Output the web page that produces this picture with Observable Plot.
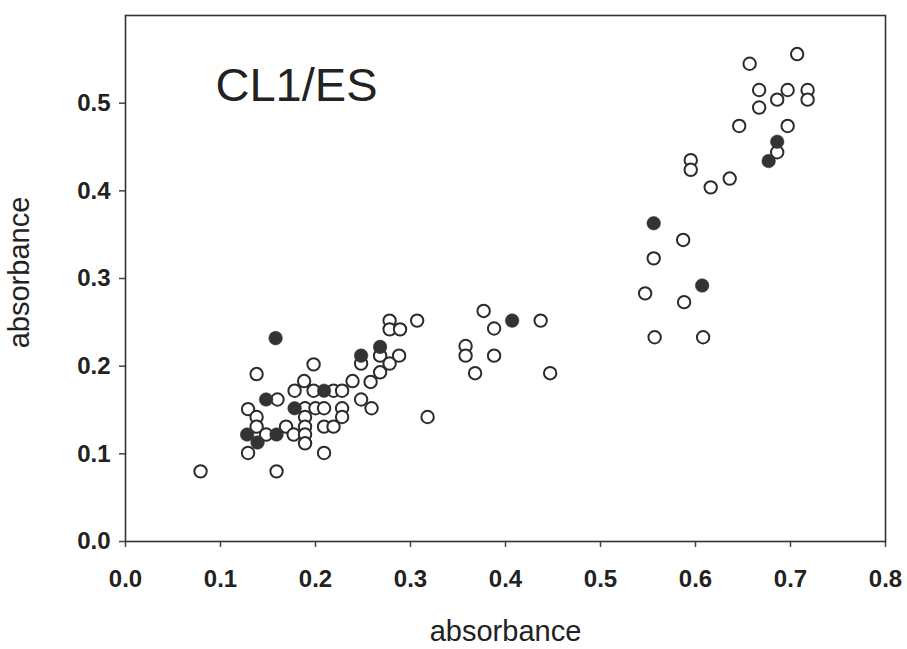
<!DOCTYPE html>
<html><head><meta charset="utf-8">
<script src="https://cdn.jsdelivr.net/npm/d3@7"></script>
<script src="https://cdn.jsdelivr.net/npm/@observablehq/plot@0.6"></script>
<style>
body{margin:0;background:#fff}
#chart svg{display:block}
#chart g[aria-label="x-axis tick label"] text,
#chart g[aria-label="y-axis tick label"] text{font-weight:bold}
</style>
</head><body><div id="chart"></div>
<script>
const xTicks = [0, 0.1, 0.2, 0.3, 0.4, 0.5, 0.6, 0.7, 0.8];
const yTicks = [0, 0.1, 0.2, 0.3, 0.4, 0.5];
const panelLabel = "CL1/ES";
const axisTitle = "absorbance";

// open circles
const openX = [0.079,0.159,0.138,0.160,0.129,0.138,0.138,0.129,0.148,0.169,0.177,
  0.198,0.188,0.178,0.198,0.219,0.228,0.239,0.189,0.200,0.209,0.228,0.189,0.228,
  0.189,0.209,0.219,0.189,0.189,0.209,0.248,0.259,0.258,0.248,0.268,0.268,0.278,
  0.288,0.278,0.278,0.289,0.307,0.318,
  0.377,0.437,0.388,0.358,0.358,0.388,0.368,0.447,
  0.707,0.657,0.667,0.697,0.718,0.686,0.718,0.667,0.646,0.697,0.686,0.595,0.595,
  0.636,0.616,0.587,0.556,0.547,0.588,0.557,0.608];
const openY = [0.080,0.080,0.191,0.162,0.151,0.142,0.131,0.101,0.122,0.131,0.122,
  0.202,0.183,0.172,0.172,0.172,0.172,0.183,0.152,0.152,0.152,0.152,0.142,0.142,
  0.131,0.131,0.131,0.122,0.112,0.101,0.162,0.152,0.182,0.203,0.193,0.212,0.203,
  0.212,0.252,0.242,0.242,0.252,0.142,
  0.263,0.252,0.243,0.223,0.212,0.212,0.192,0.192,
  0.556,0.545,0.515,0.515,0.515,0.504,0.504,0.495,0.474,0.474,0.444,0.435,0.424,
  0.414,0.404,0.344,0.323,0.283,0.273,0.233,0.233];

// filled circles
const filledX = [0.158,0.148,0.128,0.139,0.159,0.178,0.209,0.248,0.268,0.407,0.556,0.607,0.677,0.686];
const filledY = [0.232,0.162,0.122,0.113,0.122,0.152,0.172,0.212,0.222,0.252,0.363,0.292,0.434,0.456];

const openPts = openX.map((x, i) => ({x, y: openY[i]}));
const filledPts = filledX.map((x, i) => ({x, y: filledY[i]}));

const plot = Plot.plot({
  width: 907, height: 649,
  marginLeft: 125, marginRight: 22, marginTop: 15, marginBottom: 108,
  style: {fontFamily: "'Liberation Sans', Arial, sans-serif", color: "#222", background: "#fff", overflow: "visible"},
  x: {domain: [0, 0.8]},
  y: {domain: [0, 0.6]},
  marks: [
    Plot.axisX(xTicks, {tickFormat: d3.format(".1f"), tickSize: 6, tickPadding: 22, fontSize: 24, label: null, stroke: "#444", strokeWidth: 1.5}),
    Plot.axisY(yTicks, {tickFormat: d3.format(".1f"), tickSize: 6, tickPadding: 9, fontSize: 24, label: null, stroke: "#444", strokeWidth: 1.5}),
    Plot.frame({stroke: "#333", strokeWidth: 1.6}),
    Plot.dot(openPts, {x: "x", y: "y", r: 6.2, fill: "#fff", stroke: "#2b2b2b", strokeWidth: 2}),
    Plot.dot(filledPts, {x: "x", y: "y", r: 6.8, fill: "#333", stroke: "#333", strokeWidth: 0.5}),
    Plot.text([panelLabel], {text: d => d, frameAnchor: "top-left", textAnchor: "start", lineAnchor: "middle", dx: 90, dy: 70, fontSize: 47, fill: "#222"}),
    Plot.text([axisTitle], {text: d => d, frameAnchor: "bottom", textAnchor: "middle", lineAnchor: "middle", dy: 90, fontSize: 29, fill: "#222"}),
    Plot.text([axisTitle], {text: d => d, frameAnchor: "left", textAnchor: "middle", lineAnchor: "middle", dx: -106, dy: -6, rotate: -90, fontSize: 29, fill: "#222"})
  ]
});
document.getElementById("chart").append(plot);
</script>
</body></html>
